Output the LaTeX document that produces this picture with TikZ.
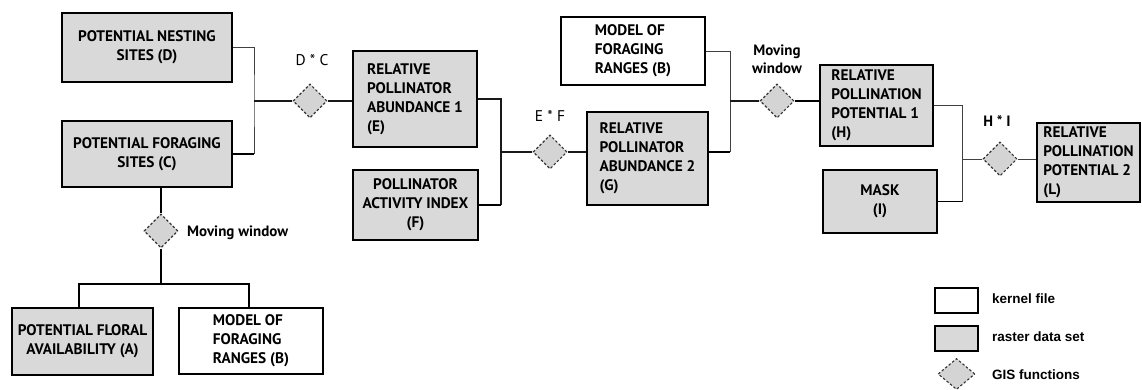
\documentclass[tikz,border=0pt]{standalone}
\usepackage{fontspec}
\setmainfont{PT Sans}
\newfontfamily\legendfont{Liberation Sans}
\usetikzlibrary{shapes.geometric}
\definecolor{rastergray}{HTML}{D9D9D9}
\definecolor{gisgray}{HTML}{D4D4D4}
\definecolor{gisedge}{HTML}{333333}
\begin{document}
\begin{tikzpicture}[x=1pt,y=-1pt,
  box/.style={draw=black, line width=1.3pt, inner sep=0pt, align=center,
    font=\bfseries\fontsize{15.3}{19}\selectfont},
  raster/.style={box, fill=rastergray},
  kernel/.style={box, fill=white},
  gis/.style={diamond, draw=gisedge, fill=gisgray, line width=1.1pt,
    dash pattern=on 2.5pt off 2pt, inner sep=0pt, minimum width=34pt, minimum height=34pt},
  wire/.style={line width=1.3pt, draw=black!90},
  thinwire/.style={line width=0.9pt, draw=black!75},
  thickwire/.style={line width=1.7pt, draw=black},
  op/.style={font=\fontsize{15.5}{18}\selectfont, inner sep=0pt},
  opb/.style={font=\bfseries\fontsize{15}{18}\selectfont, inner sep=0pt, align=center},
  leg/.style={font=\legendfont\bfseries\fontsize{13.5}{16}\selectfont, inner sep=0pt, anchor=west}
]
\useasboundingbox (0,0) rectangle (1142,390);
% boxes
\node[raster, minimum width=170pt, minimum height=69pt] (D) at (147,47.5) {POTENTIAL NESTING\\SITES (D)};
\node[raster, minimum width=170pt, minimum height=66pt] (C) at (147,154) {POTENTIAL FORAGING\\SITES (C)};
\node[raster, minimum width=141pt, minimum height=67pt] (A) at (82.5,341.5) {POTENTIAL FLORAL\\AVAILABILITY (A)};
\node[kernel, minimum width=144pt, minimum height=66pt, align=left] (B1) at (251,341) {MODEL OF\\FORAGING\\RANGES (B)};
\node[raster, minimum width=124pt, minimum height=96pt, align=left] (E) at (415,99) {RELATIVE\\POLLINATOR\\ABUNDANCE 1\\(E)};
\node[raster, minimum width=125pt, minimum height=70pt] (F) at (415.5,205) {POLLINATOR\\ACTIVITY INDEX\\(F)};
\node[raster, minimum width=121pt, minimum height=93pt, align=left] (G) at (647.5,158.5) {RELATIVE\\POLLINATOR\\ABUNDANCE 2\\(G)};
\node[kernel, minimum width=144pt, minimum height=68pt, align=left] (B2) at (633,51) {MODEL OF\\FORAGING\\RANGES (B)};
\node[raster, minimum width=113pt, minimum height=81pt, align=left] (H) at (876.5,105.5) {RELATIVE\\POLLINATION\\POTENTIAL 1\\(H)};
\node[raster, minimum width=114pt, minimum height=63pt] (I) at (880,201.5) {MASK\\(I)};
\node[raster, minimum width=103pt, minimum height=79pt, align=left] (L) at (1088.5,162.5) {RELATIVE\\POLLINATION\\POTENTIAL 2\\(L)};
% GIS functions
\node[gis] (d1) at (310,101) {};
\node[gis] (d2) at (550,152) {};
\node[gis] (d3) at (777,101) {};
\node[gis] (d4) at (1000,159) {};
\node[gis] (dm) at (161,231) {};
% labels
\node[op] (l1) at (312,60) {D * C};
\node[op] (l2) at (550,116) {E * F};
\node[opb] (l3) at (777,59) {Moving\\window};
\node[opb] (l4) at (997,121) {H * I};
\node[opb, anchor=west] (l5) at (187,233) {Moving window};
% junctions
\coordinate (j1) at (254,101);
\coordinate (j2) at (501,152);
\coordinate (j3) at (730,101);
\coordinate (j4) at (962,159);
\coordinate (jm) at (161,284);
\coordinate (ja) at (79,284);
\coordinate (jb) at (249,284);
% connectors
\draw[thinwire] (D.east) -| (j1) -- (j1 |- C.east);
\draw[thickwire] (j1 |- C.east) -- (C.east);
\draw[wire] (j1) -- (d1.west);
\draw[wire] (d1.east) -- (d1.east -| E.west);
\draw[wire] (E.east) -| (j2) -- (j2 |- F.east);
\draw[thickwire] (j2 |- F.east) -- (F.east);
\draw[wire] (j2) -- (d2.west);
\draw[wire] (d2.east) -- (d2.east -| G.west);
\draw[thinwire] (B2.east) -| (j3) -- (j3 |- d2);
\draw[thickwire] (j3 |- d2) -- (G.east |- d2);
\draw[wire] (j3) -- (d3.west);
\draw[thickwire] (d3.east) -- (d3.east -| H.west);
\draw[thinwire] (H.east) -| (j4) -- (j4 |- I.east);
\draw[thickwire] (j4 |- I.east) -- (I.east);
\draw[thinwire] (j4) -- (d4.west);
\draw[thinwire] (d4.east) -- (d4.east -| L.west);
\draw[thickwire] (dm.north |- C.south) -- (dm.north);
\draw[thickwire] (dm.south) -- (jm);
\draw[thickwire] (ja |- A.north) -- (ja) -- (jb) -- (jb |- B1.north);
% legend
\node[kernel, minimum width=43pt, minimum height=25pt] (k1) at (956.5,300.5) {};
\node[raster, minimum width=43pt, minimum height=25pt] (k2) at (956.5,338.5) {};
\node[gis, minimum width=37pt, minimum height=31pt] (k3) at (956.5,374) {};
\node[leg] (t1) at (992,299) {kernel file};
\node[leg] (t2) at (992,337) {raster data set};
\node[leg] (t3) at (992,375) {GIS functions};
\end{tikzpicture}
\end{document}
